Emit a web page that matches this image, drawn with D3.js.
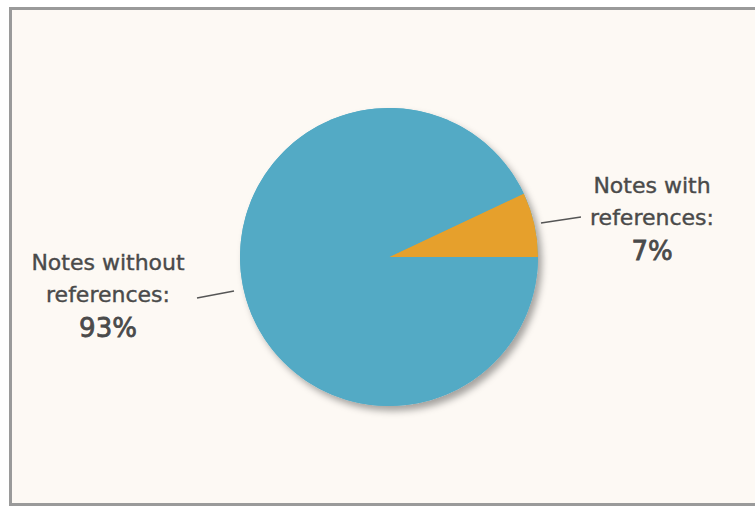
<!DOCTYPE html>
<html>
<head>
<meta charset="utf-8">
<script src="https://cdn.jsdelivr.net/npm/d3@7"></script>
<style>
  html, body { margin: 0; padding: 0; background: #ffffff; }
  svg { display: block; }
</style>
</head>
<body>
<svg id="chart" width="755" height="506"></svg>
<script>
// slice data
const categories = ['Notes with references', 'Notes without references'];
const shares = [7, 93];
const labelLines = [
  ['Notes with', 'references:', '7%'],
  ['Notes without', 'references:', '93%']
];
const colors = ['#e6a02c', '#53aac5'];

let svg = d3.select('#chart');
let width = +svg.attr('width');
let height = +svg.attr('height');

// frame
svg.append('rect')
  .attr('x', 10.5).attr('y', 8.5)
  .attr('width', 760).attr('height', 496)
  .attr('fill', '#fdf9f4')
  .attr('stroke', '#9a9a9a')
  .attr('stroke-width', 3);

// drop shadow for the pie
let defs = svg.append('defs');
let f = defs.append('filter').attr('id', 'shadow')
  .attr('x', '-20%').attr('y', '-20%').attr('width', '140%').attr('height', '140%');
f.append('feDropShadow')
  .attr('dx', 4).attr('dy', 5)
  .attr('stdDeviation', 3.5)
  .attr('flood-color', '#000')
  .attr('flood-opacity', 0.35);

let cx = 389, cy = 257, radius = 149;

// slice 0 starts at 3 o'clock and runs counterclockwise
let pie = d3.pie()
  .sort(null)
  .value(d => d)
  .startAngle(Math.PI / 2)
  .endAngle(Math.PI / 2 - 2 * Math.PI);

let arc = d3.arc().innerRadius(0).outerRadius(radius);

let g = svg.append('g').attr('transform', `translate(${cx},${cy})`);

g.append('circle').attr('r', radius).attr('fill', colors[1]).attr('filter', 'url(#shadow)');

g.selectAll('path.slice')
  .data(pie(shares))
  .enter()
  .append('path')
  .attr('class', 'slice')
  .attr('d', arc)
  .attr('fill', (d, i) => colors[i]);

// leader lines
let leaders = [
  [[541, 223], [581, 217]],
  [[197, 298], [234, 291]]
];
svg.selectAll('path.leader')
  .data(leaders)
  .enter()
  .append('path')
  .attr('class', 'leader')
  .attr('d', d => d3.line()(d))
  .attr('fill', 'none')
  .attr('stroke', '#555')
  .attr('stroke-width', 1.3);

// labels
let labelPos = [[652, 193], [108, 270]];
labelLines.forEach((lines, i) => {
  let t = svg.append('text')
    .attr('text-anchor', 'middle')
    .attr('font-family', '"DejaVu Sans", sans-serif')
    .attr('fill', '#4a4a4a')
    .attr('stroke', '#4a4a4a');
  lines.forEach((s, j) => {
    t.append('tspan')
      .attr('x', labelPos[i][0])
      .attr('y', labelPos[i][1] + j * 32 + (j === 2 ? 3 : 0))
      .attr('font-size', j === 2 ? 26 : 22)
      .attr('stroke-width', j === 2 ? 0.8 : 0.4)
      .text(s);
  });
});
</script>
</body>
</html>
